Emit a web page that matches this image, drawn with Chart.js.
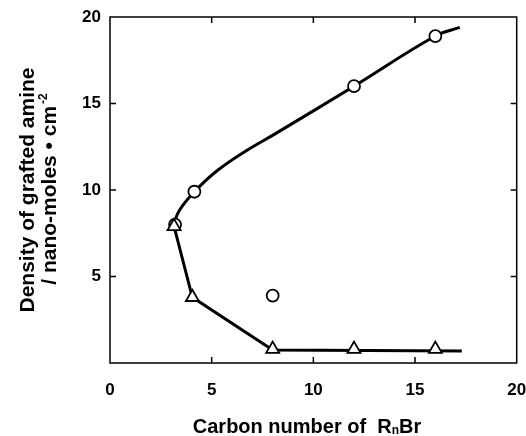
<!DOCTYPE html>
<html>
<head>
<meta charset="utf-8">
<script src="https://cdn.jsdelivr.net/npm/chart.js@4"></script>
<style>
  body { margin: 0; background: #fff; }
  #wrap { width: 526px; height: 436px; }
</style>
</head>
<body>
<div id="wrap"><canvas id="chart" width="526" height="436"></canvas></div>
<script>
const circleX = [3.2, 4.15, 8.0, 12.0, 16.0];
const circleY = [8.0, 9.9, 3.9, 16.0, 18.9];
const triX = [3.15, 4.05, 8.0, 12.0, 16.0];
const triY = [7.9, 3.8, 0.8, 0.8, 0.8];

// Drawn guide curves
const upperX = [3.1, 3.4, 4.15, 5.25, 6.7, 8.2, 12.0, 16.0, 17.2];
const upperY = [7.9, 8.8, 9.9, 11.1, 12.27, 13.3, 16.0, 18.9, 19.4];
const lowerX = [3.15, 4.05, 8.0, 17.3];
const lowerY = [7.9, 3.8, 0.75, 0.7];

// Axis ticks
const xTicks = [0, 5, 10, 15, 20];
const yTicks = [5, 10, 15, 20];

const pts = (xs, ys) => xs.map((x, i) => ({ x: x, y: ys[i] }));

Chart.defaults.font.family = "'Liberation Sans', Arial, sans-serif";
Chart.defaults.color = '#000';

// Frame with inward tick marks + axis titles
const frame = {
    id: 'frame',
    beforeDatasetsDraw(chart) {
        const ctx = chart.ctx;
        const a = chart.chartArea;
        const xs = chart.scales.x, ys = chart.scales.y;
        ctx.save();
        ctx.strokeStyle = '#000';
        ctx.lineWidth = 1.5;
        ctx.strokeRect(a.left, a.top, a.right - a.left, a.bottom - a.top);
        ctx.beginPath();
        [5, 10, 15].forEach(v => {
            const px = xs.getPixelForValue(v);
            ctx.moveTo(px, a.bottom); ctx.lineTo(px, a.bottom - 6);
            ctx.moveTo(px, a.top); ctx.lineTo(px, a.top + 6);
            const py = ys.getPixelForValue(v);
            ctx.moveTo(a.left, py); ctx.lineTo(a.left + 6, py);
            ctx.moveTo(a.right, py); ctx.lineTo(a.right - 6, py);
        });
        ctx.stroke();
        ctx.restore();
    },
    afterDraw(chart) {
        const ctx = chart.ctx;
        ctx.save();
        ctx.fillStyle = '#000';
        ctx.textBaseline = 'alphabetic';
        // x title with subscript
        const big = "bold 20px 'Liberation Sans', Arial, sans-serif";
        const small = "bold 12px 'Liberation Sans', Arial, sans-serif";
        const p1 = 'Carbon number of  R', p2 = 'n', p3 = 'Br';
        ctx.font = big;
        const w1 = ctx.measureText(p1).width, w3 = ctx.measureText(p3).width;
        ctx.font = small;
        const w2 = ctx.measureText(p2).width;
        let x0 = 307 - (w1 + w2 + w3) / 2;
        const y0 = 433;
        ctx.font = big; ctx.textAlign = 'left';
        ctx.fillText(p1, x0, y0);
        ctx.font = small; ctx.fillText(p2, x0 + w1, y0 + 1);
        ctx.font = big; ctx.fillText(p3, x0 + w1 + w2, y0);

        // y title, two rotated lines
        const ybig = "bold 21px 'Liberation Sans', Arial, sans-serif";
        const ysmall = "bold 12px 'Liberation Sans', Arial, sans-serif";
        ctx.translate(0, 190);
        ctx.rotate(-Math.PI / 2);
        ctx.textAlign = 'center';
        ctx.font = ybig;
        ctx.fillText('Density of grafted amine', 0, 34);
        const q1 = '/ nano-moles \u2022 cm', q2 = '-2';
        const wq1 = ctx.measureText(q1).width;
        ctx.font = ysmall;
        const wq2 = ctx.measureText(q2).width;
        const s = -(wq1 + wq2) / 2;
        ctx.textAlign = 'left';
        ctx.font = ybig; ctx.fillText(q1, s, 56);
        ctx.font = ysmall; ctx.fillText(q2, s + wq1 + 2, 47);
        ctx.restore();
    }
};

new Chart(document.getElementById('chart'), {
    type: 'scatter',
    data: {
        datasets: [
            {
                data: pts(upperX, upperY), showLine: true, pointRadius: 0,
                borderColor: '#000', borderWidth: 3, tension: 0.4, order: 3
            },
            {
                data: pts(lowerX, lowerY), showLine: true, pointRadius: 0,
                borderColor: '#000', borderWidth: 3, tension: 0, order: 3
            },
            {
                data: pts(circleX, circleY), pointStyle: 'circle', pointRadius: 6,
                backgroundColor: '#fff', borderColor: '#000', borderWidth: 1.8, order: 2
            },
            {
                data: pts(triX, triY), pointStyle: 'triangle', pointRadius: 7.5,
                backgroundColor: '#fff', borderColor: '#000', borderWidth: 1.8, order: 1
            }
        ]
    },
    options: {
        responsive: false,
        animation: false,
        layout: { padding: { left: 0, right: 8, top: 17, bottom: 0 } },
        plugins: { legend: { display: false }, tooltip: { enabled: false } },
        scales: {
            x: {
                type: 'linear', min: 0, max: 20,
                afterBuildTicks(scale) { scale.ticks = xTicks.map(v => ({ value: v })); },
                afterFit(scale) { scale.height = 73; scale.paddingLeft = 0; scale.paddingRight = 0; },
                grid: { display: false, drawTicks: false },
                border: { display: false },
                ticks: { padding: 17, font: { size: 17, weight: 'bold' } }
            },
            y: {
                type: 'linear', min: 0, max: 20,
                afterBuildTicks(scale) { scale.ticks = yTicks.map(v => ({ value: v })); },
                afterFit(scale) { scale.width = 110; scale.paddingTop = 0; scale.paddingBottom = 0; },
                grid: { display: false, drawTicks: false },
                border: { display: false },
                ticks: { padding: 9, font: { size: 17, weight: 'bold' } }
            }
        }
    },
    plugins: [frame]
});
</script>
</body>
</html>
